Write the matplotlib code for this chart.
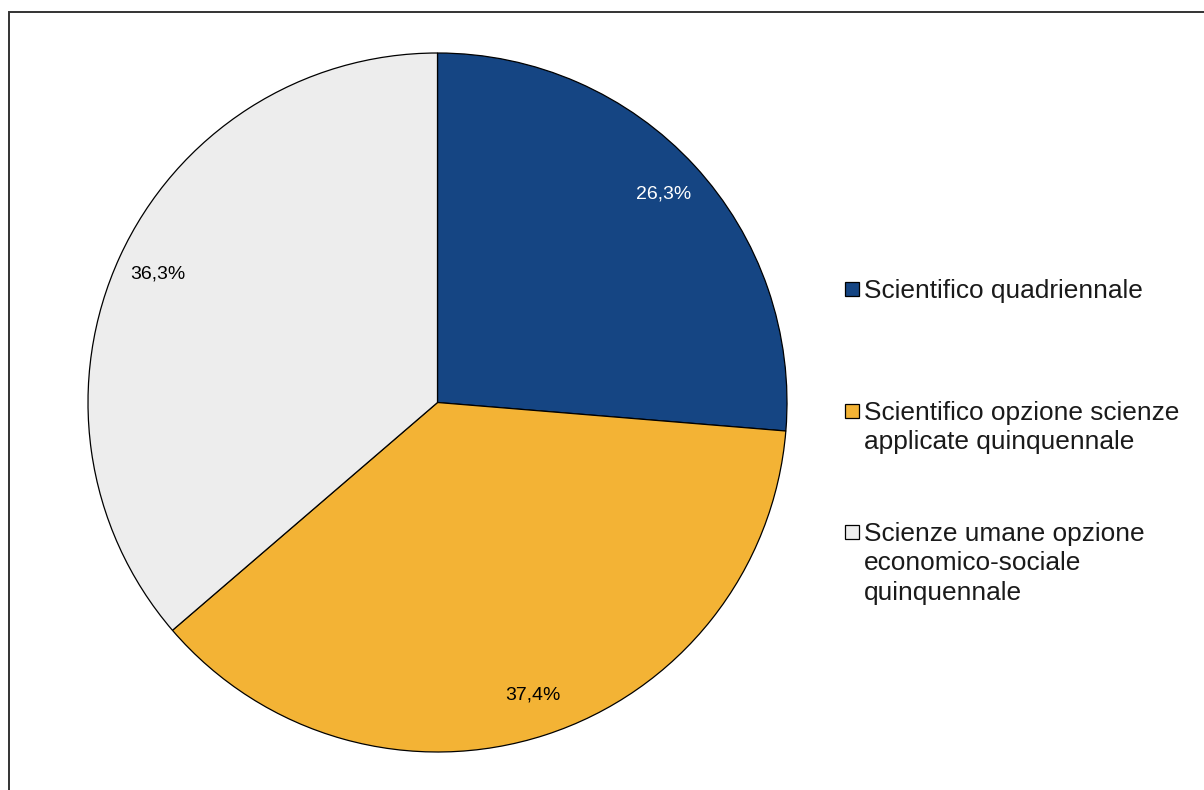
import matplotlib
matplotlib.use("Agg")
import matplotlib.pyplot as plt
from matplotlib.patches import Rectangle
import numpy as np

plt.rcParams['font.family'] = ['Liberation Sans', 'DejaVu Sans']

categories = ["Scientifico quadriennale",
              "Scientifico opzione scienze\napplicate quinquennale",
              "Scienze umane opzione\neconomico-sociale\nquinquennale"]
values = [26.3, 37.4, 36.3]
value_labels = ["26,3%", "37,4%", "36,3%"]
colors = ["#154583", "#F3B335", "#EDEDED"]
label_colors = ["white", "black", "black"]

W, H = 1204, 790
fig = plt.figure(figsize=(W / 100, H / 100), dpi=100)

# outer frame
fig.patches.append(Rectangle((8.5 / W, -20 / H), 1.2, (H - 11.5 + 20) / H,
                             transform=fig.transFigure, fill=False,
                             edgecolor="#333333", linewidth=1.4))

cx, cy, r = 437.5, 402.5, 349.5
ax = fig.add_axes([(cx - r) / W, (H - cy - r) / H, 2 * r / W, 2 * r / H])
wedges, _ = ax.pie(values, colors=colors, startangle=90, counterclock=False,
                   radius=1.0,
                   wedgeprops=dict(edgecolor="black", linewidth=0.9))
ax.set_xlim(-1, 1)
ax.set_ylim(-1, 1)
ax.set_aspect('auto')
ax.axis('off')

for w, lab, col in zip(wedges, value_labels, label_colors):
    ang = np.deg2rad((w.theta1 + w.theta2) / 2)
    ax.text(0.88 * np.cos(ang), 0.88 * np.sin(ang), lab, ha='center', va='center',
            fontsize=14, color=col)

# legend
legend_baselines = [298, 420, 541]
for cat, col, yb in zip(categories, colors, legend_baselines):
    fig.text(864 / W, 1 - (yb - 19) / H, cat, ha='left', va='top', fontsize=18.9,
             color="#1a1a1a", linespacing=1.28)
    fig.patches.append(Rectangle((845 / W, 1 - (yb - 2) / H), 14 / W, 14 / H,
                                 transform=fig.transFigure, facecolor=col,
                                 edgecolor="black", linewidth=0.9))

fig.savefig("out.png", dpi=100)
